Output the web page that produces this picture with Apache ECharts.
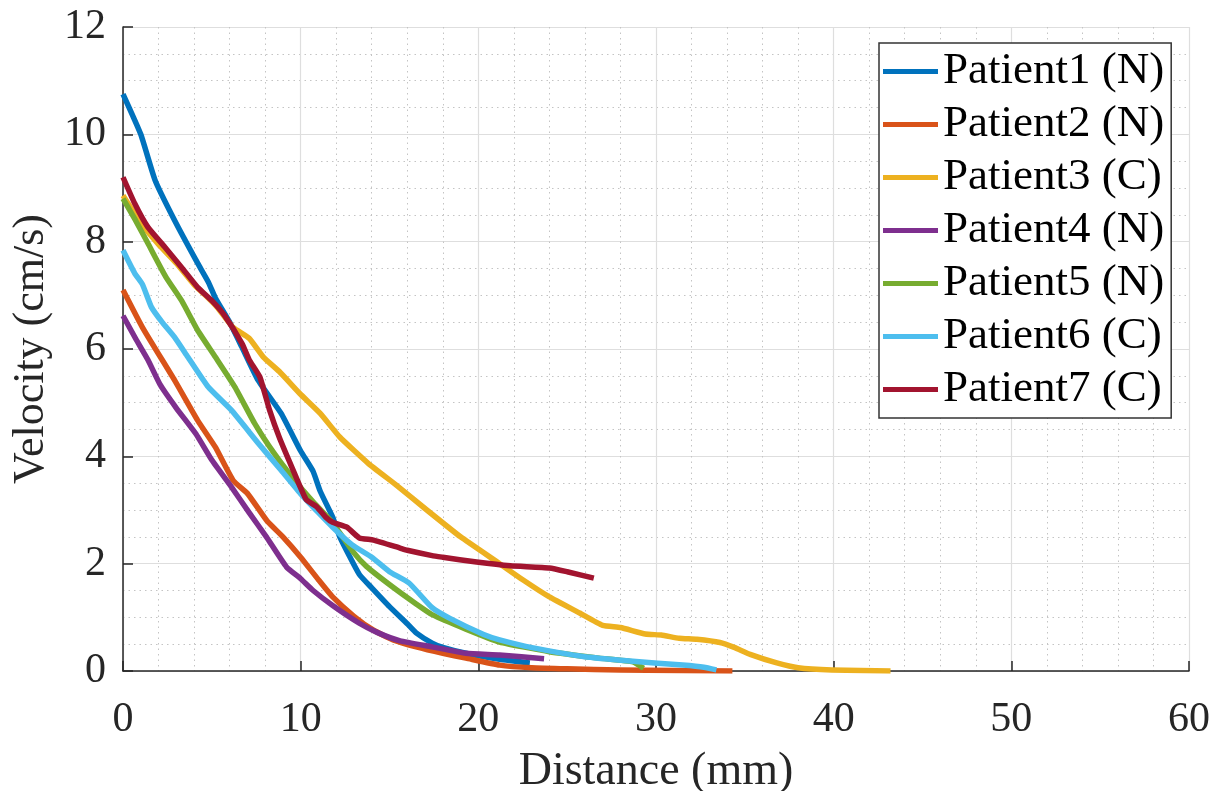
<!DOCTYPE html>
<html>
<head>
<meta charset="utf-8">
<script src="https://cdn.jsdelivr.net/npm/echarts@6/dist/echarts.min.js"></script>
<style>
html,body{margin:0;padding:0;background:#fff;}
#chart{width:1216px;height:791px;}
</style>
</head>
<body>
<div id="chart"></div>
<script>
// Distance (mm), Velocity (cm/s)
const seriesNames = ['Patient1 (N)','Patient2 (N)','Patient3 (C)','Patient4 (N)','Patient5 (N)','Patient6 (C)','Patient7 (C)'];
const xTicks = [0,10,20,30,40,50,60];
const yTicks = [0,2,4,6,8,10,12];

const patient1 = [[0,10.75],[1,10.0],[1.8,9.15],[2.9,8.4],[4.2,7.6],[4.8,7.25],[5.2,6.95],[6.0,6.5],[6.7,6.03],[7.6,5.42],[8.9,4.8],[10.0,4.1],[10.7,3.72],[11.1,3.35],[11.8,2.87],[12.2,2.5],[13.3,1.8],[14.0,1.55],[15.0,1.2],[16.0,0.88],[16.5,0.71],[17.4,0.52],[18.0,0.44],[19.3,0.33],[21.2,0.22],[22.9,0.15]];
const patient2 = [[0,7.1],[1.1,6.4],[2.9,5.42],[4.2,4.67],[5.2,4.17],[6.2,3.55],[7.0,3.31],[8.1,2.8],[9.0,2.5],[10.0,2.12],[11.0,1.7],[11.8,1.38],[13.0,1.02],[14.1,0.76],[15.2,0.58],[16.5,0.45],[18.0,0.33],[19.3,0.24],[21.2,0.11],[23.0,0.06],[25.0,0.04],[28.0,0.02],[31.0,0.01],[34.3,0.0]];
const patient3 = [[0,8.86],[1,8.35],[2,7.95],[3,7.6],[4,7.2],[4.8,6.95],[5.3,6.78],[6.2,6.4],[7.1,6.2],[7.9,5.85],[8.8,5.58],[9.95,5.17],[11.1,4.8],[12.2,4.36],[13.8,3.87],[15.4,3.46],[17.1,3.0],[19.0,2.5],[21.2,2.0],[22.5,1.7],[24.0,1.38],[25.7,1.08],[27.0,0.85],[28.0,0.81],[29.4,0.69],[30.3,0.67],[31.3,0.61],[32.3,0.59],[33.6,0.53],[34.4,0.44],[35.3,0.31],[36.8,0.15],[38.0,0.06],[39.9,0.02],[43.2,0.0]];
const patient4 = [[0,6.62],[0.7,6.2],[1.4,5.8],[2.1,5.33],[3.0,4.9],[4.1,4.42],[5.0,3.93],[6.1,3.43],[7.1,2.95],[8.07,2.5],[9.2,1.94],[10.0,1.72],[10.7,1.5],[11.8,1.22],[13.3,0.89],[14.3,0.72],[15.6,0.56],[17.4,0.45],[19.3,0.33],[21.2,0.3],[23.7,0.23]];
const patient5 = [[0,8.8],[0.7,8.4],[1.4,7.97],[2.4,7.35],[3.3,6.9],[4.2,6.35],[5.2,5.85],[6.3,5.29],[7.4,4.62],[8.5,4.06],[9.6,3.58],[10.7,3.15],[11.8,2.76],[13.0,2.2],[13.7,1.95],[15.2,1.56],[16.5,1.25],[17.4,1.05],[19.3,0.78],[21.2,0.54],[24.0,0.36],[26.8,0.24],[28.7,0.17],[29.3,0.05]];
const patient6 = [[0,7.84],[0.66,7.41],[1.1,7.2],[1.6,6.78],[2.2,6.5],[2.9,6.22],[3.65,5.85],[4.8,5.29],[6.1,4.86],[7.6,4.25],[8.9,3.74],[10.0,3.3],[11.0,2.95],[11.8,2.68],[12.9,2.35],[14.0,2.12],[15.0,1.85],[16.1,1.64],[17.4,1.18],[18.4,0.98],[20.3,0.68],[21.2,0.58],[23.1,0.43],[25.9,0.27],[28.7,0.18],[31.5,0.11],[32.7,0.07],[33.4,0.02]];
const patient7 = [[0,9.2],[0.66,8.71],[1.4,8.27],[2.35,7.9],[3.3,7.52],[4.2,7.15],[5.0,6.9],[5.7,6.63],[6.7,6.1],[7.1,5.8],[7.7,5.48],[8.25,4.86],[8.8,4.35],[9.5,3.8],[10.3,3.2],[10.9,3.06],[11.4,2.87],[11.8,2.77],[12.6,2.68],[13.3,2.48],[14.1,2.44],[15.6,2.29],[16.0,2.25],[17.4,2.15],[18.0,2.12],[19.9,2.03],[21.8,1.96],[24.0,1.92],[25.0,1.85],[26.5,1.73]];

const colors = ['#0072BD','#D95319','#EDB120','#7E2F8E','#77AC30','#4DBEEE','#A2142F'];
const allData = [patient1,patient2,patient3,patient4,patient5,patient6,patient7];

const FONT = '"Liberation Serif", "Times New Roman", serif';
const chart = echarts.init(document.getElementById('chart'), null, {renderer:'canvas'});

const axisCommon = {
  axisLine: {show:true, onZero:false, lineStyle:{color:'#262626', width:1.5}},
  axisTick: {show:true, inside:true, length:10, lineStyle:{color:'#262626', width:1.5}},
  splitLine: {show:true, lineStyle:{color:'#dedede', width:1.2}},
  minorSplitLine: {show:true, lineStyle:{color:'#c4c4c4', width:1, type:[1.5,4]}},
};

chart.setOption({
  backgroundColor:'#ffffff',
  animation:false,
  color: colors,
  grid: {left:123, right:27, top:27, bottom:120, containLabel:false, outerBoundsMode:'none'},
  legend: {
    data: seriesNames,
    orient:'vertical',
    left:879, top:43,
    padding:[6,7,6,4],
    itemGap:8,
    itemWidth:55, itemHeight:5,
    icon:'rect',
    borderColor:'#333', borderWidth:1.5,
    backgroundColor:'#ffffff',
    textStyle:{fontFamily:FONT, fontSize:45, color:'#000', lineHeight:45}
  },
  xAxis: Object.assign({}, axisCommon, {
    type:'value', min:0, max:60, interval:10,
    name:'Distance (mm)', nameLocation:'middle', nameGap:78,
    nameTextStyle:{fontFamily:FONT, fontSize:46, color:'#262626'},
    minorTick:{show:false, splitNumber:5},
    axisLabel:{fontFamily:FONT, fontSize:42, color:'#262626', margin:28,
      formatter: v => xTicks.includes(v) ? String(v) : ''}
  }),
  yAxis: Object.assign({}, axisCommon, {
    type:'value', min:0, max:12, interval:2,
    name:'Velocity (cm/s)', nameLocation:'middle', nameGap:58, nameRotate:90,
    nameTextStyle:{fontFamily:FONT, fontSize:44, color:'#262626'},
    minorTick:{show:false, splitNumber:4},
    axisLabel:{fontFamily:FONT, fontSize:42, color:'#262626', margin:17,
      formatter: v => yTicks.includes(v) ? String(v) : ''}
  }),
  series: allData.map((d,i) => ({
    name: seriesNames[i],
    type:'line',
    data: d,
    showSymbol:false,
    symbol:'none',
    smooth:0.15,
    lineStyle:{width:5.5, color:colors[i], cap:'butt', join:'round'},
    itemStyle:{color:colors[i]},
    z: 2+i
  }))
});
</script>
</body>
</html>
